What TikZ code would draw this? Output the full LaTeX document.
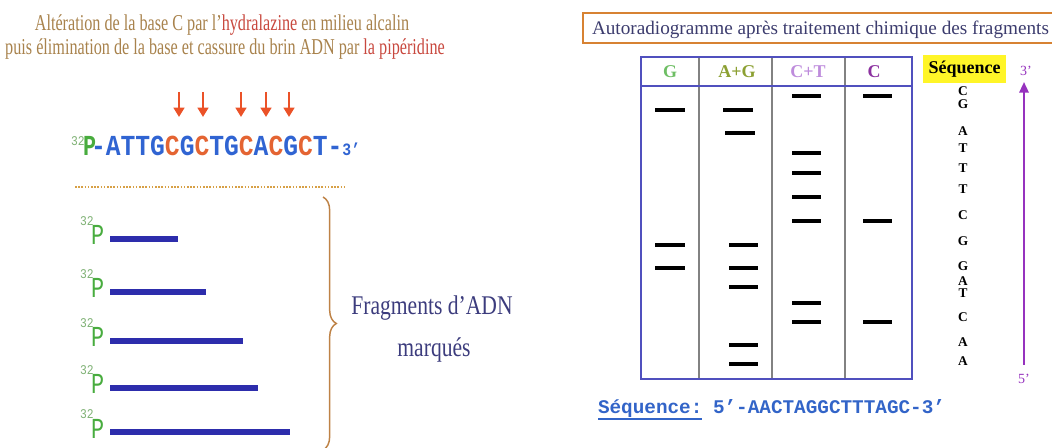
\documentclass[tikz,border=0pt]{standalone}
\usepackage{fontspec}
\setmainfont{Liberation Serif}
\newfontfamily\monof{Liberation Mono}
\usepackage{graphicx}
\usetikzlibrary{decorations.pathreplacing,arrows.meta}
\definecolor{titleBrown}{RGB}{168,130,76}
\definecolor{titleRed}{RGB}{200,72,62}
\definecolor{arrowRed}{RGB}{235,82,40}
\definecolor{seqBlue}{RGB}{48,100,210}
\definecolor{seqC}{RGB}{228,100,50}
\definecolor{pGreen}{RGB}{72,172,62}
\definecolor{supGreen}{RGB}{128,178,118}
\definecolor{barBlue}{RGB}{45,45,172}
\definecolor{dotGold}{RGB}{215,160,70}
\definecolor{braceBrown}{RGB}{190,130,70}
\definecolor{fragText}{RGB}{60,60,125}
\definecolor{boxOrange}{RGB}{215,130,50}
\definecolor{autoText}{RGB}{60,60,110}
\definecolor{gelBlue}{RGB}{80,80,190}
\definecolor{gelGray}{RGB}{130,130,130}
\definecolor{hG}{RGB}{110,190,100}
\definecolor{hAG}{RGB}{140,160,50}
\definecolor{hCT}{RGB}{190,140,220}
\definecolor{hC}{RGB}{140,50,160}
\definecolor{seqYellow}{RGB}{255,245,40}
\definecolor{purpleA}{RGB}{150,50,190}
\definecolor{bottomBlue}{RGB}{50,100,200}
\newcommand\cC[1]{\textcolor{seqC}{#1}}
\newcommand\seqfont{\monof\bfseries\fontsize{21.75}{22}\selectfont}
\newcommand\fragfont{\monof\fontsize{21.75}{22}\selectfont}
\tikzset{
  txt/.style={inner sep=0pt, outer sep=0pt},
  cutarrow/.style={draw=arrowRed, line width=2.2pt, -{Triangle[width=8pt,length=7pt,fill=arrowRed]}},
  dnabar/.style={draw=barBlue, line width=4.5pt},
  band/.style={draw=black, line width=2.3pt},
  lane/.style={draw=gelGray, line width=0.8pt},
  gelframe/.style={draw=gelBlue, line width=1.6pt},
  seqletter/.style={txt, font=\fontsize{10}{10}\selectfont\bfseries},
  header/.style={txt, anchor=base, font=\fontsize{13.5}{14}\selectfont\bfseries},
}
\begin{document}
\begin{tikzpicture}[x=0.75pt,y=-0.75pt]
\useasboundingbox (0,0) rectangle (1052,448);

% ---------- left: titles ----------
\node[txt, anchor=base] (t1) at (222,31) {\fontsize{17}{20}\selectfont\color{titleBrown}\scalebox{0.714}[1]{Altération de la base C par l’\textcolor{titleRed}{hydralazine} en milieu alcalin}};
\node[txt, anchor=base] (t2) at (225,55) {\fontsize{17}{20}\selectfont\color{titleBrown}\scalebox{0.714}[1]{puis élimination de la base et cassure du brin ADN par \textcolor{titleRed}{la pipéridine}}};

% cut arrows
\foreach \i/\x in {1/179,2/203,3/241,4/266,5/289}{
  \coordinate (a\i s) at (\x,92);
  \coordinate (a\i e) at (\x,117);
  \draw[cutarrow] (a\i s) -- (a\i e);
}

% sequence
\node[txt, anchor=base west] (sup0) at (71,146) {\color{supGreen}\monof\fontsize{10}{10}\selectfont\scalebox{0.85}[1]{32}};
\node[txt, anchor=base west] (p0) at (83,156) {\color{pGreen}\seqfont\scalebox{0.75}[1]{P}};
\node[txt, anchor=base west] (seq) at (91,156) {\seqfont\scalebox{0.85}[1]{\color{seqBlue}-ATTG\cC{C}G\cC{C}TG\cC{C}A\cC{C}G\cC{C}T-}};
\node[txt, anchor=base west] (end3) at (seq.base east) {\color{seqBlue}\monof\bfseries\fontsize{13}{13}\selectfont\scalebox{0.85}[1]{3’}};

% dotted separator
\coordinate (d1) at (75,187);
\coordinate (d2) at (345,187);
\draw[dotGold, line width=2pt, dash pattern=on 1.2pt off 1.2pt] (d1) -- (d2);

% fragments
\foreach \i/\y/\e in {1/239/178,2/292/206,3/341/243,4/388/258,5/432/290}{
  \node[txt, anchor=base west] (fs\i) at (80,\y-13) {\color{supGreen}\monof\fontsize{10}{10}\selectfont\scalebox{0.85}[1]{32}};
  \node[txt, anchor=base west] (fp\i) at (91,\y+6) {\color{pGreen}\fragfont\scalebox{0.75}[1]{P}};
  \coordinate (fb\i) at (110,\y);
  \coordinate (fe\i) at (\e,\y);
  \draw[dnabar] (fb\i) -- (fe\i);
}

% brace
\coordinate (br1) at (323,197);
\coordinate (br2) at (323,450);
\draw[braceBrown, line width=1.1pt, decorate, decoration={brace, amplitude=10pt}] (br1) -- (br2);

\node[txt, anchor=base] (frag1) at (432,315) {\color{fragText}\fontsize{20.25}{22}\selectfont\scalebox{0.8}[1]{Fragments d’ADN}};
\node[txt, anchor=base] (frag2) at (434,357) {\color{fragText}\fontsize{20.25}{22}\selectfont\scalebox{0.8}[1]{marqués}};

% ---------- right: title box ----------
\draw[boxOrange, line width=1.5pt, fill=white] (583,13) rectangle (1062,43);
\node[txt, anchor=base west] (auto) at (592,35) {\color{autoText}\fontsize{14.4}{16}\selectfont Autoradiogramme après traitement chimique des fragments};

% gel
\foreach \x in {699,772,845}{
  \coordinate (lt\x) at (\x,57);
  \coordinate (lb\x) at (\x,379);
  \draw[lane] (lt\x) -- (lb\x);
}
\draw[gelframe] (641,57) rectangle (912,379);
\coordinate (hl1) at (641,86);
\coordinate (hl2) at (912,86);
\draw[gelframe] (hl1) -- (hl2);

\node[header, text=hG]  (hg)  at (670,78) {G};
\node[header, text=hAG] (hag) at (737,78) {A+G};
\node[header, text=hCT] (hct) at (808,78) {C+T};
\node[header, text=hC]  (hc)  at (874,78) {C};

% bands
\foreach \y in {110,245,268}{ \draw[band] (655,\y) -- (685,\y); }
\draw[band] (723,110) -- (753,110);
\draw[band] (725,133) -- (755,133);
\foreach \y in {245,268,287,345,364}{ \draw[band] (729,\y) -- (758,\y); }
\foreach \y in {96,153,173,197,221,303,322}{ \draw[band] (792,\y) -- (821,\y); }
\foreach \y in {96,221,322}{ \draw[band] (863,\y) -- (892,\y); }

% sequence column
\node[txt, fill=seqYellow, minimum width=62.5pt, minimum height=21pt, font=\fontsize{13.5}{14}\selectfont\bfseries] (seqlab) at (964.5,69) {Séquence};
\foreach \l/\y [count=\k] in {C/91,G/104,A/131,T/148,T/168,T/189,C/215,G/241,G/266,A/281,T/293,C/317,A/342,A/361}{
  \node[seqletter] (L\k) at (963,\y) {\l};
}

% purple arrow
\coordinate (p5) at (1024,365);
\coordinate (p3) at (1024,82);
\draw[purpleA, line width=1.6pt, -{Triangle[width=7pt,length=8pt]}] (p5) -- (p3);
\node[txt, anchor=base, text=purpleA, font=\fontsize{10.5}{11}\selectfont] (th) at (1026,76) {3’};
\node[txt, anchor=base, text=purpleA, font=\fontsize{10.5}{11}\selectfont] (fv) at (1024,384) {5’};

% bottom sequence
\node[txt, anchor=base west, text=bottomBlue, font=\monof\bfseries\fontsize{14.5}{15}\selectfont] (bseq) at (598,414) {Séquence:};
\node[txt, anchor=base west, text=bottomBlue, font=\monof\bfseries\fontsize{14.5}{15}\selectfont] (bval) at (713,414) {5’-AACTAGGCTTTAGC-3’};
\draw[bottomBlue, line width=1.3pt] ([yshift=-3.5pt]bseq.base west) -- ([yshift=-3.5pt]bseq.base east);
\end{tikzpicture}
\end{document}
